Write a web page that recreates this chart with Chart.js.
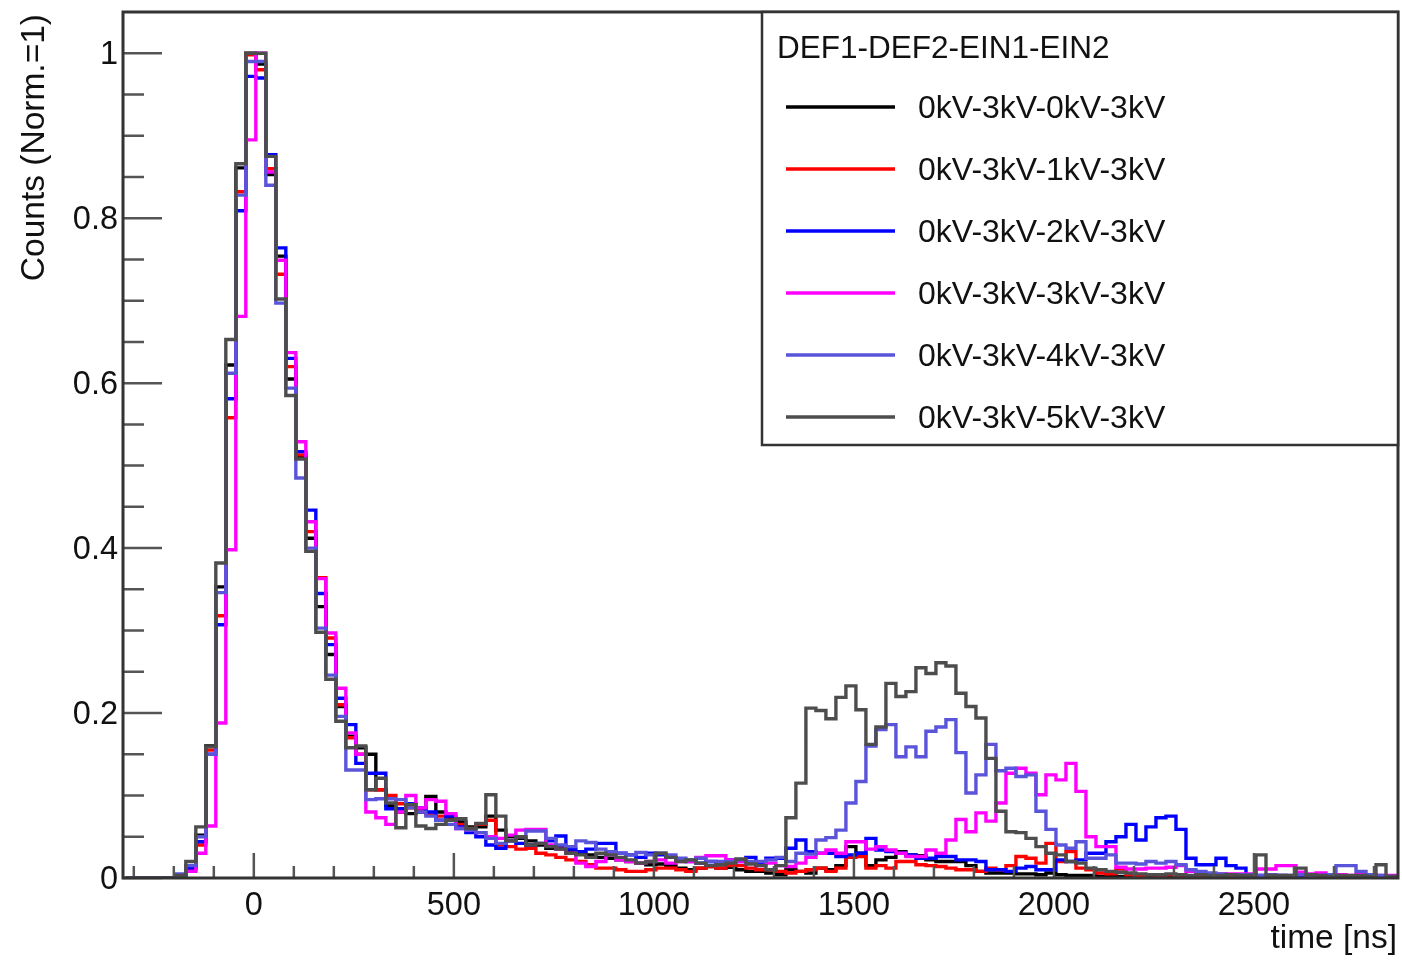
<!DOCTYPE html>
<html>
<head>
<meta charset="utf-8">
<title>DEF1-DEF2-EIN1-EIN2</title>
<script src="https://cdn.jsdelivr.net/npm/chart.js@4.4.1/dist/chart.umd.min.js"></script>
<style>
  html, body { margin: 0; padding: 0; background: #ffffff; }
  #contenedor { width: 1402px; height: 961px; }
</style>
</head>
<body>
<div id="contenedor"><canvas id="grafico" width="1402" height="961"></canvas></div>
<script>
// histogram binning in ns (128 bins of 25 ns)
const binStart = -320;
const binWidth = 25;

const legendTitle = 'DEF1-DEF2-EIN1-EIN2';
const seriesLabels = ['0kV-3kV-0kV-3kV', '0kV-3kV-1kV-3kV', '0kV-3kV-2kV-3kV', '0kV-3kV-3kV-3kV', '0kV-3kV-4kV-3kV', '0kV-3kV-5kV-3kV'];
const seriesColors = ['#000000', '#ff0000', '#0000ff', '#ff00ff', '#5954d9', '#4d4d4d'];

const xMajorTicks = [0, 500, 1000, 1500, 2000, 2500];
const xTickLabels = ['0', '500', '1000', '1500', '2000', '2500'];
const yMajorTicks = [0, 0.2, 0.4, 0.6, 0.8, 1];
const yTickLabels = ['0', '0.2', '0.4', '0.6', '0.8', '1'];

const counts0kV = [
    0, 0, 0, 0, 0, 0.002, 0.015, 0.052, 0.160, 0.353,
    0.622, 0.861, 1.000, 0.987, 0.853, 0.754, 0.605, 0.510, 0.412, 0.329,
    0.271, 0.208, 0.172, 0.158, 0.150, 0.107, 0.088, 0.080, 0.078, 0.080,
    0.099, 0.080, 0.072, 0.068, 0.062, 0.062, 0.075, 0.058, 0.050, 0.048,
    0.045, 0.040, 0.036, 0.038, 0.032, 0.030, 0.028, 0.025, 0.024, 0.022,
    0.020, 0.018, 0.016, 0.017, 0.015, 0.012, 0.010, 0.012, 0.014, 0.012,
    0.013, 0.010, 0.008, 0.008, 0.006, 0.004, 0.010, 0.008, 0.006, 0.012,
    0.010, 0.015, 0.038, 0.030, 0.015, 0.022, 0.025, 0.032, 0.028, 0.027,
    0.022, 0.020, 0.020, 0.020, 0.015, 0.008, 0.006, 0.006, 0.006, 0.005,
    0.005, 0.004, 0.006, 0.004, 0.003, 0.003, 0.003, 0.002, 0.003, 0.002,
    0.002, 0.002, 0.001, 0.002, 0.001, 0.001, 0.001, 0.001, 0.001, 0.001,
    0.001, 0.001, 0.001, 0.001, 0.001, 0.001, 0.001, 0.001, 0.001, 0.001,
    0.001, 0.001, 0.001, 0.001, 0.001, 0.001, 0.001, 0.001
];
const counts1kV = [
    0, 0, 0, 0, 0, 0.001, 0.010, 0.040, 0.155, 0.318,
    0.558, 0.832, 0.998, 0.980, 0.860, 0.732, 0.620, 0.513, 0.420, 0.364,
    0.291, 0.210, 0.170, 0.150, 0.107, 0.107, 0.100, 0.090, 0.085, 0.082,
    0.078, 0.075, 0.070, 0.065, 0.060, 0.065, 0.070, 0.040, 0.038, 0.035,
    0.036, 0.030, 0.028, 0.025, 0.022, 0.020, 0.016, 0.012, 0.012, 0.010,
    0.008, 0.008, 0.010, 0.012, 0.012, 0.010, 0.008, 0.012, 0.014, 0.012,
    0.015, 0.015, 0.012, 0.010, 0.010, 0.008, 0.006, 0.008, 0.010, 0.012,
    0.008, 0.012, 0.025, 0.026, 0.012, 0.015, 0.012, 0.020, 0.020, 0.016,
    0.015, 0.014, 0.012, 0.010, 0.010, 0.008, 0.012, 0.010, 0.015, 0.026,
    0.024, 0.018, 0.042, 0.020, 0.032, 0.012, 0.010, 0.006, 0.005, 0.011,
    0.004, 0.003, 0.004, 0.003, 0.004, 0.002, 0.002, 0.002, 0.002, 0.002,
    0.002, 0.001, 0.001, 0.001, 0.001, 0.001, 0.001, 0.001, 0.001, 0.001,
    0.001, 0.001, 0.001, 0.001, 0.001, 0.001, 0.001, 0.001
];
const counts2kV = [
    0, 0, 0, 0, 0, 0.002, 0.012, 0.044, 0.150, 0.307,
    0.581, 0.809, 0.972, 0.970, 0.877, 0.764, 0.630, 0.517, 0.446, 0.345,
    0.283, 0.218, 0.186, 0.139, 0.127, 0.127, 0.084, 0.084, 0.090, 0.085,
    0.080, 0.070, 0.075, 0.062, 0.055, 0.050, 0.040, 0.036, 0.045, 0.042,
    0.040, 0.042, 0.045, 0.051, 0.035, 0.032, 0.035, 0.042, 0.042, 0.030,
    0.028, 0.025, 0.030, 0.028, 0.025, 0.022, 0.020, 0.018, 0.020, 0.018,
    0.022, 0.020, 0.025, 0.018, 0.024, 0.024, 0.036, 0.046, 0.032, 0.030,
    0.030, 0.026, 0.028, 0.030, 0.048, 0.034, 0.032, 0.030, 0.028, 0.024,
    0.024, 0.026, 0.026, 0.022, 0.022, 0.020, 0.010, 0.010, 0.008, 0.012,
    0.014, 0.010, 0.010, 0.022, 0.020, 0.022, 0.030, 0.030, 0.044, 0.050,
    0.065, 0.046, 0.062, 0.073, 0.075, 0.059, 0.024, 0.016, 0.016, 0.024,
    0.015, 0.012, 0.004, 0.003, 0.003, 0.003, 0.002, 0.002, 0.003, 0.002,
    0.002, 0.002, 0.002, 0.002, 0.002, 0.002, 0.002, 0.002
];
const counts3kV = [
    0, 0, 0, 0, 0, 0, 0.008, 0.030, 0.063, 0.188,
    0.398, 0.681, 0.895, 1.000, 0.856, 0.749, 0.637, 0.529, 0.432, 0.363,
    0.297, 0.230, 0.176, 0.150, 0.080, 0.073, 0.065, 0.080, 0.100, 0.085,
    0.095, 0.093, 0.078, 0.060, 0.058, 0.055, 0.050, 0.048, 0.052, 0.058,
    0.059, 0.059, 0.040, 0.035, 0.030, 0.018, 0.014, 0.020, 0.028, 0.022,
    0.020, 0.018, 0.020, 0.022, 0.018, 0.020, 0.020, 0.025, 0.027, 0.027,
    0.022, 0.020, 0.018, 0.015, 0.018, 0.015, 0.014, 0.018, 0.025, 0.030,
    0.034, 0.030, 0.044, 0.044, 0.035, 0.038, 0.034, 0.030, 0.026, 0.026,
    0.034, 0.030, 0.046, 0.071, 0.056, 0.079, 0.069, 0.091, 0.127, 0.133,
    0.127, 0.101, 0.125, 0.119, 0.139, 0.105, 0.050, 0.038, 0.038, 0.013,
    0.011, 0.011, 0.012, 0.012, 0.013, 0.015, 0.008, 0.005, 0.005, 0.005,
    0.005, 0.005, 0.005, 0.011, 0.011, 0.015, 0.015, 0.007, 0.005, 0.006,
    0.004, 0.004, 0.003, 0.004, 0.003, 0.003, 0.003, 0.003
];
const counts4kV = [
    0, 0, 0, 0, 0, 0.005, 0.015, 0.050, 0.150, 0.346,
    0.612, 0.828, 0.990, 0.990, 0.840, 0.697, 0.594, 0.485, 0.400, 0.303,
    0.246, 0.196, 0.131, 0.131, 0.095, 0.096, 0.096, 0.095, 0.085, 0.080,
    0.075, 0.070, 0.065, 0.060, 0.058, 0.055, 0.048, 0.042, 0.045, 0.050,
    0.057, 0.057, 0.048, 0.040, 0.038, 0.045, 0.043, 0.035, 0.032, 0.030,
    0.028, 0.031, 0.028, 0.030, 0.028, 0.024, 0.022, 0.024, 0.020, 0.020,
    0.020, 0.022, 0.020, 0.020, 0.022, 0.025, 0.020, 0.030, 0.029, 0.046,
    0.049, 0.058, 0.091, 0.117, 0.160, 0.180, 0.186, 0.147, 0.159, 0.147,
    0.178, 0.183, 0.192, 0.152, 0.103, 0.125, 0.162, 0.130, 0.133, 0.123,
    0.125, 0.081, 0.059, 0.040, 0.036, 0.044, 0.024, 0.024, 0.028, 0.018,
    0.018, 0.017, 0.020, 0.018, 0.020, 0.016, 0.010, 0.008, 0.006, 0.005,
    0.004, 0.004, 0.004, 0.003, 0.004, 0.003, 0.003, 0.004, 0.003, 0.003,
    0.004, 0.015, 0.015, 0.008, 0.004, 0.003, 0.002, 0.002
];
const counts5kV = [
    0, 0, 0, 0, 0, 0.003, 0.020, 0.062, 0.159, 0.382,
    0.653, 0.866, 1.000, 1.000, 0.875, 0.702, 0.585, 0.508, 0.396, 0.298,
    0.241, 0.190, 0.158, 0.160, 0.107, 0.121, 0.091, 0.061, 0.089, 0.063,
    0.060, 0.065, 0.070, 0.072, 0.060, 0.066, 0.101, 0.075, 0.045, 0.050,
    0.040, 0.042, 0.038, 0.035, 0.030, 0.028, 0.025, 0.030, 0.028, 0.025,
    0.022, 0.018, 0.020, 0.030, 0.025, 0.020, 0.022, 0.018, 0.015, 0.016,
    0.018, 0.023, 0.017, 0.015, 0.010, 0.015, 0.073, 0.115, 0.206, 0.203,
    0.193, 0.219, 0.233, 0.204, 0.162, 0.183, 0.236, 0.220, 0.226, 0.255,
    0.248, 0.261, 0.257, 0.224, 0.208, 0.194, 0.145, 0.081, 0.056, 0.055,
    0.048, 0.038, 0.030, 0.028, 0.020, 0.018, 0.012, 0.010, 0.008, 0.007,
    0.006, 0.005, 0.004, 0.004, 0.005, 0.004, 0.003, 0.004, 0.003, 0.003,
    0.004, 0.003, 0.003, 0.028, 0.003, 0.003, 0.003, 0.012, 0.004, 0.003,
    0.002, 0.003, 0.003, 0.003, 0.002, 0.016, 0.002, 0.002
];

const allCounts = [counts0kV, counts1kV, counts2kV, counts3kV, counts4kV, counts5kV];

document.addEventListener("DOMContentLoaded", function () {
    const fontFamily = '"Liberation Sans", Arial, Helvetica, sans-serif';

    // one point per bin low edge, plus the last upper edge
    function histogramPoints(counts) {
        const points = counts.map((c, i) => ({ x: binStart + i * binWidth, y: c }));
        points.push({ x: binStart + counts.length * binWidth, y: counts[counts.length - 1] });
        return points;
    }

    const datasets = allCounts.map((counts, i) => ({
        label: seriesLabels[i],
        data: histogramPoints(counts),
        borderColor: seriesColors[i],
        backgroundColor: seriesColors[i],
        borderWidth: 3.4,
        stepped: 'before',
        pointRadius: 0,
        fill: false,
        order: allCounts.length - 1 - i,
        borderJoinStyle: 'miter',
        borderCapStyle: 'butt'
    }));

    // ROOT-like frame, inner ticks, labels and legend box
    const rootFrame = {
        id: 'rootFrame',
        afterDatasetsDraw(chart) {
            const { ctx, chartArea: area, scales: { x, y } } = chart;
            ctx.save();

            ctx.strokeStyle = '#555555';
            ctx.lineWidth = 2.5;
            ctx.beginPath();
            for (let v = -300; v <= 2800; v += 100) {
                const px = x.getPixelForValue(v);
                const len = v % 500 === 0 ? 25 : 12;
                ctx.moveTo(px, area.bottom);
                ctx.lineTo(px, area.bottom - len);
            }
            for (let i = 0; i <= 20; i++) {
                const py = y.getPixelForValue(i * 0.05);
                const len = i % 4 === 0 ? 39 : 21;
                ctx.moveTo(area.left, py);
                ctx.lineTo(area.left + len, py);
            }
            ctx.stroke();

            ctx.strokeStyle = '#333333';
            ctx.lineWidth = 3;
            ctx.strokeRect(area.left, area.top, area.right - area.left, area.bottom - area.top);

            ctx.fillStyle = '#111111';
            ctx.font = `32.5px ${fontFamily}`;
            ctx.textBaseline = 'alphabetic';
            ctx.textAlign = 'center';
            xMajorTicks.forEach((v, i) => {
                ctx.fillText(xTickLabels[i], x.getPixelForValue(v), area.bottom + 37);
            });
            ctx.textAlign = 'right';
            yMajorTicks.forEach((v, i) => {
                ctx.fillText(yTickLabels[i], area.left - 5, y.getPixelForValue(v) + 11);
            });

            ctx.font = `33.5px ${fontFamily}`;
            ctx.textAlign = 'right';
            ctx.fillText('time [ns]', area.right - 1, area.bottom + 70);

            ctx.save();
            ctx.translate(44, area.top + 2);
            ctx.rotate(-Math.PI / 2);
            ctx.textAlign = 'right';
            ctx.fillText('Counts (Norm.=1)', 0, 0);
            ctx.restore();

            // legend
            const boxLeft = area.right - 636;
            const boxTop = area.top;
            const boxBottom = area.top + 433;
            ctx.fillStyle = '#ffffff';
            ctx.fillRect(boxLeft, boxTop, area.right - boxLeft, boxBottom - boxTop);
            ctx.strokeStyle = '#333333';
            ctx.lineWidth = 2.5;
            ctx.strokeRect(boxLeft, boxTop, area.right - boxLeft, boxBottom - boxTop);

            ctx.fillStyle = '#111111';
            ctx.font = `31.5px ${fontFamily}`;
            ctx.textAlign = 'left';
            ctx.fillText(legendTitle, boxLeft + 15, boxTop + 46);

            ctx.font = `32px ${fontFamily}`;
            seriesLabels.forEach((label, i) => {
                const rowY = boxTop + 95 + i * 62;
                ctx.strokeStyle = seriesColors[i];
                ctx.lineWidth = 3.4;
                ctx.beginPath();
                ctx.moveTo(boxLeft + 24, rowY);
                ctx.lineTo(boxLeft + 133, rowY);
                ctx.stroke();
                ctx.fillStyle = '#111111';
                ctx.fillText(label, boxLeft + 156, rowY + 11);
            });

            ctx.restore();
        }
    };

    new Chart(document.getElementById('grafico'), {
        type: 'line',
        data: { datasets },
        options: {
            responsive: false,
            devicePixelRatio: 1,
            animation: false,
            layout: { padding: { left: 123, right: 4, top: 12, bottom: 83 } },
            scales: {
                x: { type: 'linear', min: -327, max: 2860, display: false },
                y: { type: 'linear', min: 0, max: 1.05, display: false }
            },
            plugins: {
                legend: { display: false },
                tooltip: { enabled: false }
            }
        },
        plugins: [rootFrame]
    });
});
</script>
</body>
</html>
